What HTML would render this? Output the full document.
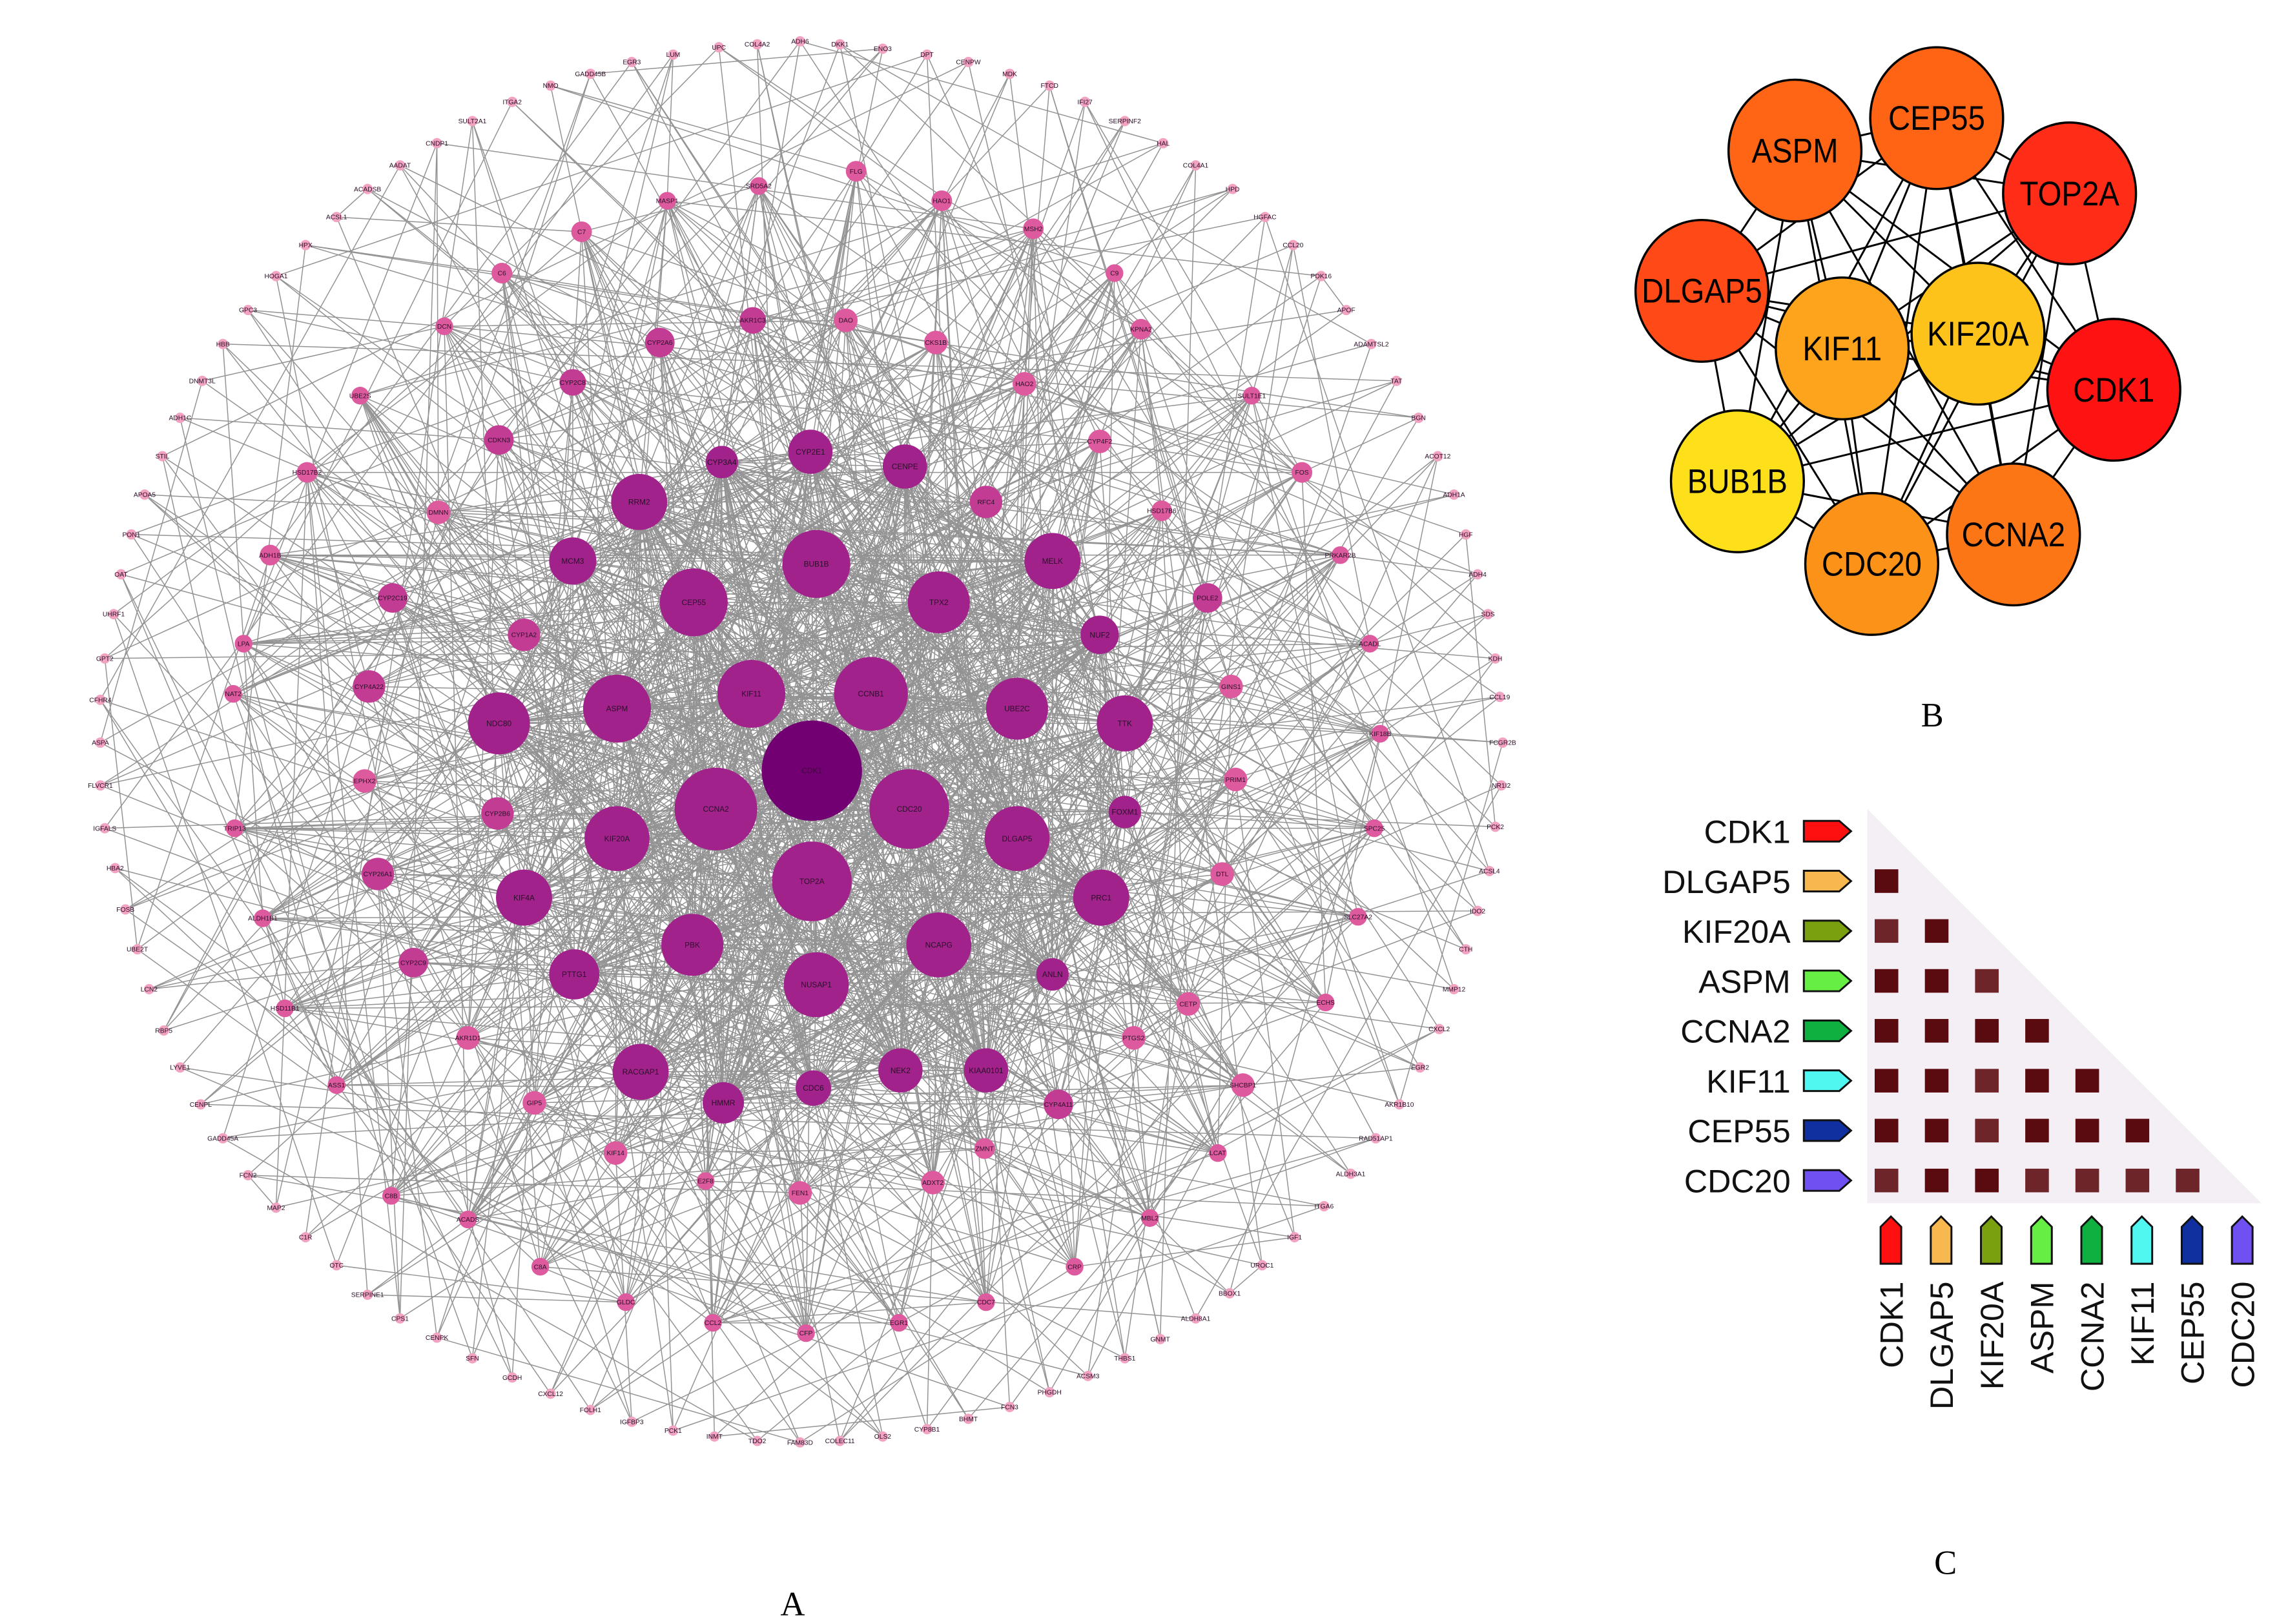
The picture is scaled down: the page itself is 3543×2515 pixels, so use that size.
<!DOCTYPE html>
<html><head><meta charset="utf-8"><style>
html,body{margin:0;padding:0;background:#fff;}
svg{display:block;}
text{font-family:"Liberation Sans",sans-serif;}
</style></head><body>
<svg id="fig" width="3543" height="2515" viewBox="0 0 1550 1100" preserveAspectRatio="none" xmlns="http://www.w3.org/2000/svg">
<g id="panelA"><g id="edgesA"></g><g id="nodesA"></g></g>
<g id="panelB"><g id="edgesB"></g><g id="nodesB"></g></g>
<g id="panelC"></g>
<text x="537" y="1094" font-size="23" text-anchor="middle" style="font-family:'Liberation Serif',serif">A</text>
<text x="1309" y="492" font-size="23" text-anchor="middle" style="font-family:'Liberation Serif',serif">B</text>
<text x="1318" y="1066" font-size="23" text-anchor="middle" style="font-family:'Liberation Serif',serif">C</text>
</svg>
<script>
// ---------- Panel A data ----------
const hubNames=["CDK1","CCNA2","CDC20","TOP2A","CCNB1","KIF11","BUB1B","CEP55","TPX2","ASPM","UBE2C","NDC80","TTK","KIF20A","DLGAP5","KIF4A","PRC1","PBK","NCAPG","NUSAP1","PTTG1","RACGAP1","KIAA0101","HMMR","CDC6","NEK2","RRM2","MCM3","MELK","CENPE","CYP2E1","NUF2","ANLN","FOXM1","CYP3A4"];
const hubX=[550,485,616,550,590,509,553,470,636,418,689,338,762,418,689,355,746,469,636,553,389,434,668,490,551,610,433,388,713,613,549,745,713,762,489];
const hubY=[522,548,548,597,470,470,382,408,408,480,480,490,490,568,568,608,608,640,640,667,660,726,725,747,737,725,340,380,380,316,306,430,660,550,313];
const hubSize=[34,28,27,27,25,23,23,23,21,23,21,21,19,22,22,19,19,21,22,22,17,19,15,14,12,15,19,16,19,15,15,13,11,11,11];
const midNames=["CDKN3","CYP2C8","CYP2A6","AKR1C3","DAO","CKS1B","HAO2","RFC4","CYP4F2","DMNN","CYP2C19","CYP1A2","CYP4A22","POLE2","GINS1","EPHX2","PRIM1","CYP2B6","CYP26A1","DTL","CYP2C9","CETP","AKR1D1","PTGS2","GIP5","CYP4A11","SHCBP1","KIF14","FEN1","ADXT2","ZMNT","LCAT","E2F8","FOS","HSD17B6","KPNA2","SULT1E1","HSD17B2","ADH1B","PRKAR2B","LPA","NAT2","ACADL","KIF18B","TRIP13","SPC25","ALDH1B1","SLC27A2","HSD11B1","ECHS","ASS1","C8B","ACADS","C8A","MBL2","CRP","GLDC","CCL2","CFP","EGR1","CDC7","MASP1","SRD5A2","FLG","HAO1","MSH2","C9","C7","C6","DCN","UBE2S"];
const midX=[338,388,447,510,573,634,694,668,745,297,266,355,250,818,834,247,837,337,256,828,280,805,317,768,362,717,842,417,542,632,667,825,478,882,787,773,848,208,183,908,165,158,928,935,159,931,178,920,193,898,228,265,317,366,779,728,424,483,546,609,668,452,514,580,638,700,755,394,340,301,244];
const midY=[298,259,232,217,217,232,260,340,299,347,405,430,465,405,465,529,528,551,592,592,652,680,703,703,747,748,735,781,808,801,778,781,800,320,346,223,268,320,376,376,436,470,436,497,561,561,622,621,683,679,735,810,826,858,825,858,882,896,903,896,882,136,126,116,136,155,185,157,185,221,268];
const midSize=[10,9,10,9,8,8,8,11,8,8,10,11,11,10,8,8,8,11,11,8,10,8,8,8,8,10,8,8,8,8,7,6,6,7,7,7,6,7,7,6,6,6,6,6,6,6,6,6,6,6,6,6,6,6,6,6,6,6,6,6,6,6,6,7,7,7,6,7,7,6,6];
const periNames=["UPC","COL4A2","ADH6","DKK1","ENO3","DPT","CENPW","MDK","FTCD","IFI27","SERPINF2","HAL","COL4A1","HPD","HGFAC","CCL20","PDK16","APOF","ADAMTSL2","TAT","BGN","ACOT12","ADH1A","HGF","ADH4","SDS","KDH","CCL19","FCGR2B","NR1I2","PCK2","ACSL4","IDO2","CTH","MMP12","CXCL2","EGR2","AKR1B10","RAD51AP1","ALDH3A1","ITGA6","IGF1","UROC1","BBOX1","ALDH8A1","GNMT","THBS1","ACSM3","PHGDH","FCN3","BHMT","CYP8B1","OLS2","COLEC11","FAM83D","TDO2","INMT","PCK1","IGFBP3","FOLH1","CXCL12","GCDH","SFN","CENPK","CPS1","SERPINE1","OTC","C1R","MAP2","FCN2","GADD45A","CENPL","LYVE1","RBP5","LCN2","UBE2T","FOSB","HBA2","IGFALS","FLVCR1","ASPA","CFHR4","GPT2","UHRF1","OAT","PON1","APOA5","STIL","ADH1C","DNMT3L","HBB","GPC3","HOGA1","HPX","ACSL1","ACADSB","AADAT","CNDP1","SULT2A1","ITGA2","NMO","GADD45B","EGR3","LUM"];
const periX=[487,513,542,569,598,628,656,684,711,735,762,788,810,835,857,876,895,912,929,946,961,974,985,993,1001,1008,1013,1016,1018,1017,1013,1009,1001,993,985,975,962,948,932,915,897,877,855,833,810,786,762,737,711,684,656,628,598,569,542,513,484,456,428,400,373,347,320,296,271,249,228,207,187,168,151,136,122,111,101,93,85,78,71,68,68,68,71,77,82,89,98,110,122,137,151,168,187,207,228,249,271,296,320,347,373,400,428,456];
const periY=[32,30,28,30,33,37,42,50,58,69,82,97,112,128,147,166,187,210,233,258,283,309,335,362,389,416,446,472,503,532,560,590,617,643,670,697,723,748,771,795,817,838,857,876,893,907,920,932,943,953,961,968,973,976,977,976,973,969,963,955,944,933,920,906,893,877,857,838,818,796,771,748,723,698,670,643,616,588,561,532,503,474,446,416,389,362,335,309,283,258,233,210,187,166,147,128,112,97,82,69,58,50,42,37];
// ---------- Panel B data ----------
const bNames=["ASPM","CEP55","TOP2A","DLGAP5","KIF11","KIF20A","CDK1","BUB1B","CDC20","CCNA2"];
const bX=[1216,1312,1402,1153,1248,1340,1432,1177,1268,1364];
const bY=[102,80,131,197,236,226,264,326,382,362];
const bColor=["#ff6514","#ff6414","#ff2c18","#ff4a18","#fda41c","#fdc31a","#ff1212","#fde01a","#fd9218","#fd7616"];
// ---------- Panel C data ----------
const cGenes=["CDK1","DLGAP5","KIF20A","ASPM","CCNA2","KIF11","CEP55","CDC20"];
const cTagColor=["#ff1010","#f8b850","#7aa010","#66ee44","#10b040","#50f6f0","#1030a0","#7050f0"];
const cCorr=[[],[0.95],[0.8,0.95],[0.95,0.95,0.8],[0.95,0.95,0.92,0.92],[0.95,0.95,0.85,0.95,0.92],[0.95,0.95,0.85,0.95,0.95,0.95],[0.8,0.9,0.92,0.82,0.85,0.82,0.8]];

const NS="http://www.w3.org/2000/svg";
function mk(tag,attrs,parent){const e=document.createElementNS(NS,tag);for(const k in attrs)e.setAttribute(k,attrs[k]);parent.appendChild(e);return e;}

// Panel A
const nodes=[];
hubNames.forEach((n,i)=>nodes.push({n,x:hubX[i],y:hubY[i],r:hubSize[i],t:i===0?0:1}));
midNames.forEach((n,i)=>nodes.push({n,x:midX[i],y:midY[i],r:midSize[i],t:midSize[i]>=9?2:3}));
periNames.forEach((n,i)=>nodes.push({n,x:periX[i],y:periY[i],r:3.5,t:4}));
const N=nodes.length,H=hubNames.length,M=midNames.length;
const eA=document.getElementById('edgesA');
const pairs=new Set();
function addEdge(a,b){if(a===b)return;const k=a<b?a+'-'+b:b+'-'+a;if(pairs.has(k))return;pairs.add(k);
 const l=mk('line',{x1:nodes[a].x,y1:nodes[a].y,x2:nodes[b].x,y2:nodes[b].y,stroke:'#939393','stroke-width':0.65},eA);
 
 }
for(let i=0;i<H;i++){for(let j=0;j<H;j++)if((i*7+j*3)%3!==0)addEdge(i,j);
 for(let k=0;k<14;k++)addEdge(i,H+((i*31+k*17+5)%M));}
for(let i=H;i<H+M;i++){for(let k=0;k<3;k++)addEdge(i,(i*13+k*29+7)%(H+M));
 addEdge(i,H+M+((i*11)%periNames.length));}
for(let i=H+M;i<N;i++){addEdge(i,(i*19+3)%(H+M));addEdge(i,H+((i*23+11)%M));if(i%2)addEdge(i,H+M+((i*37+41)%periNames.length));}
const colors=['#720072','#a1228a','#c33c93','#de5a9e','#f2a3c2'];
const nA=document.getElementById('nodesA');
nodes.forEach(nd=>{
 const g=mk('g',{},nA);
 
 
 mk('circle',{cx:nd.x,cy:nd.y,r:nd.r,fill:colors[nd.t]},g);
 const fs=nd.t<=1?5.2:4.5;
 const t=mk('text',{x:nd.x,y:nd.y+fs*0.35,'font-size':fs,'text-anchor':'middle',fill:nd.t===0?'#3a0a3a':'#2a1028'},g);
 t.textContent=nd.n;
});

// Panel B
const eB=document.getElementById('edgesB');
for(let i=0;i<bNames.length;i++)for(let j=i+1;j<bNames.length;j++){
 const l=mk('line',{x1:bX[i],y1:bY[i],x2:bX[j],y2:bY[j],stroke:'#000','stroke-width':1.3},eB);
 
 }
const nB=document.getElementById('nodesB');
bNames.forEach((n,i)=>{
 const g=mk('g',{},nB);
 
 
 mk('ellipse',{cx:bX[i],cy:bY[i],rx:45,ry:48,fill:bColor[i],stroke:'#000','stroke-width':1.5},g);
 const t=mk('text',{x:bX[i],y:bY[i]+8,'font-size':23,'text-anchor':'middle',fill:'#000',transform:`translate(${bX[i]},0) scale(0.9,1) translate(${-bX[i]},0)`},g);
 t.textContent=n;
});

// Panel C
const pC=document.getElementById('panelC');
const rowY=i=>563+i*33.8, colX=j=>1278+j*34;
const tri=mk('polygon',{points:'1265,548 1265,815 1532,815',fill:'#f4eef5'},pC);


cGenes.forEach((g,i)=>{
 const y=rowY(i);
 const t=mk('text',{x:1213,y:y+8,'font-size':22,'text-anchor':'end',fill:'#111'},pC);
 
 
 t.textContent=g;
 const tag=mk('polygon',{points:`1222,${y-7} 1246,${y-7} 1254,${y} 1246,${y+7} 1222,${y+7}`,fill:cTagColor[i],stroke:'#111','stroke-width':1.3},pC);
 
 
 cCorr[i].forEach((v,j)=>{
  const s=mk('rect',{x:colX(j)-8,y:y-8,width:16,height:16,fill:v>=0.9?'#5a0b10':'#6e2529'},pC);
  
  
 });
 const cx=1281+i*34;
 const ct=mk('polygon',{points:`${cx-7},856 ${cx-7},831 ${cx},824 ${cx+7},831 ${cx+7},856`,fill:cTagColor[i],stroke:'#111','stroke-width':1.3},pC);
 
 
 const cl=mk('text',{x:0,y:0,'font-size':22,'text-anchor':'end',fill:'#111',transform:`translate(${cx+8},868) rotate(-90)`},pC);
 
 
 cl.textContent=g;
});
</script>
</body></html>
